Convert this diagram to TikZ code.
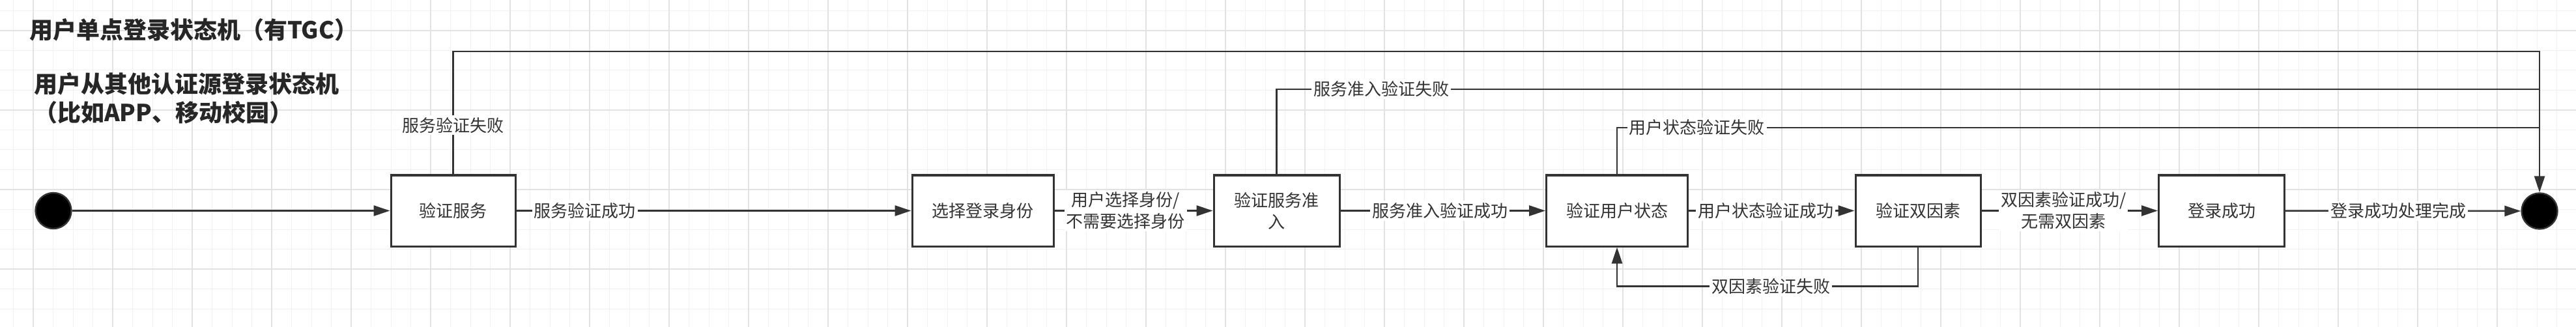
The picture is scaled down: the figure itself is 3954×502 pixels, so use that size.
\documentclass[tikz,border=0pt]{standalone}
\usepackage{fontspec}
\usepackage{tikz}
\usetikzlibrary{calc,arrows.meta}
\newfontfamily\cjk{Noto Sans CJK SC}
\definecolor{linegray}{HTML}{333333}
\definecolor{gridminor}{HTML}{F1F1F1}
\definecolor{gridmajor}{HTML}{E2E2E2}

\tikzset{
    state/.style={draw=linegray, line width=1.5pt, fill=white, minimum height=54.5pt, inner sep=0pt, align=center, text=linegray},
    pseudo/.style={circle, draw=linegray, line width=1.2pt, fill=black, minimum size=27.5pt, inner sep=0pt},
    edge/.style={draw=linegray, line width=1.3pt, -{Triangle[length=12.5pt,width=8pt]}},
    rail/.style={draw=linegray, line width=1.3pt},
    lbl/.style={fill=white, inner sep=1.5pt, align=center, text=linegray},
    title/.style={anchor=west, align=left, font=\cjk\bfseries\fontsize{18}{22}\selectfont, text=black!85}
}

\begin{document}
\begin{tikzpicture}[x=0.5pt, y=-0.5pt, font=\cjk\fontsize{13}{16.5}\selectfont]

        \useasboundingbox (0,0) rectangle (3954,502);
        \fill[white] (0,0) rectangle (3954,502);

        % background grid
        \foreach \i in {0,...,129} \draw[gridminor, line width=0.5pt] (20.5+30.5*\i,0) -- (20.5+30.5*\i,502);
        \foreach \i in {0,...,15} \draw[gridminor, line width=0.5pt] (0,16.5+30.5*\i) -- (3954,16.5+30.5*\i);
        \foreach \i in {0,...,32} \draw[gridmajor, line width=0.8pt] (51+122*\i,0) -- (51+122*\i,502);
        \foreach \i in {0,...,3} \draw[gridmajor, line width=0.8pt] (0,47+122*\i) -- (3954,47+122*\i);

        \node (title1) [title] at (38,46) {用户单点登录状态机（有TGC）};
        \node (title2) [title] at (45,151) {用户从其他认证源登录状态机\\（比如APP、移动校园）};

        \node (start) [pseudo] at (82,323.5) {};
        \node (end) [pseudo] at (3898,324) {};

        \node (vs) [state, minimum width=95.5pt] at (695.5,323.5) {验证服务};
        \node (sel) [state, minimum width=108.5pt] at (1508.5,323.5) {选择登录身份};
        \node (acc) [state, minimum width=96.5pt] at (1959.5,323.5) {验证服务准\\入};
        \node (ust) [state, minimum width=108.5pt] at (2482,323.5) {验证用户状态};
        \node (tf) [state, minimum width=96pt] at (2944,323.5) {验证双因素};
        \node (ok) [state, minimum width=96.5pt] at (3410,323.5) {登录成功};

        \coordinate (railA) at (3898,79);
        \coordinate (railB) at (3898,137);
        \coordinate (railC) at (3898,196);

        \draw[edge] (start) -- (vs);
        \draw[edge] (vs) -- node[lbl, pos=0.174] {服务验证成功} (sel);
        \draw[edge] (sel) -- node[lbl, pos=0.45] {用户选择身份/\\不需要选择身份} (acc);
        \draw[edge] (acc) -- node[lbl, pos=0.486] {服务准入验证成功} (ust);
        \draw[edge] (ust) -- node[lbl, pos=0.465] {用户状态验证成功} (tf);
        \draw[edge] (tf) -- node[lbl, pos=0.465] {双因素验证成功/\\无需双因素} (ok);
        \draw[edge] (ok) -- node[lbl, pos=0.48] {登录成功处理完成} (end);

        \draw[edge] (vs.north) -- node[lbl, pos=0.4] {服务验证失败} (vs.north |- railA) -- (railA) -- (end.north);
        \draw[rail] (acc.north) -- (acc.north |- railB) -- node[lbl, pos=0.083] {服务准入验证失败} (railB);
        \draw[rail] (ust.north) -- (ust.north |- railC) -- node[lbl, pos=0.0865] {用户状态验证失败} (railC);
        \draw[edge] (tf.south) -- ($(tf.south)+(0,60)$) -- node[lbl, pos=0.489] {双因素验证失败} ($(ust.south)+(0,60)$) -- (ust.south);

    \end{tikzpicture}
\end{document}
